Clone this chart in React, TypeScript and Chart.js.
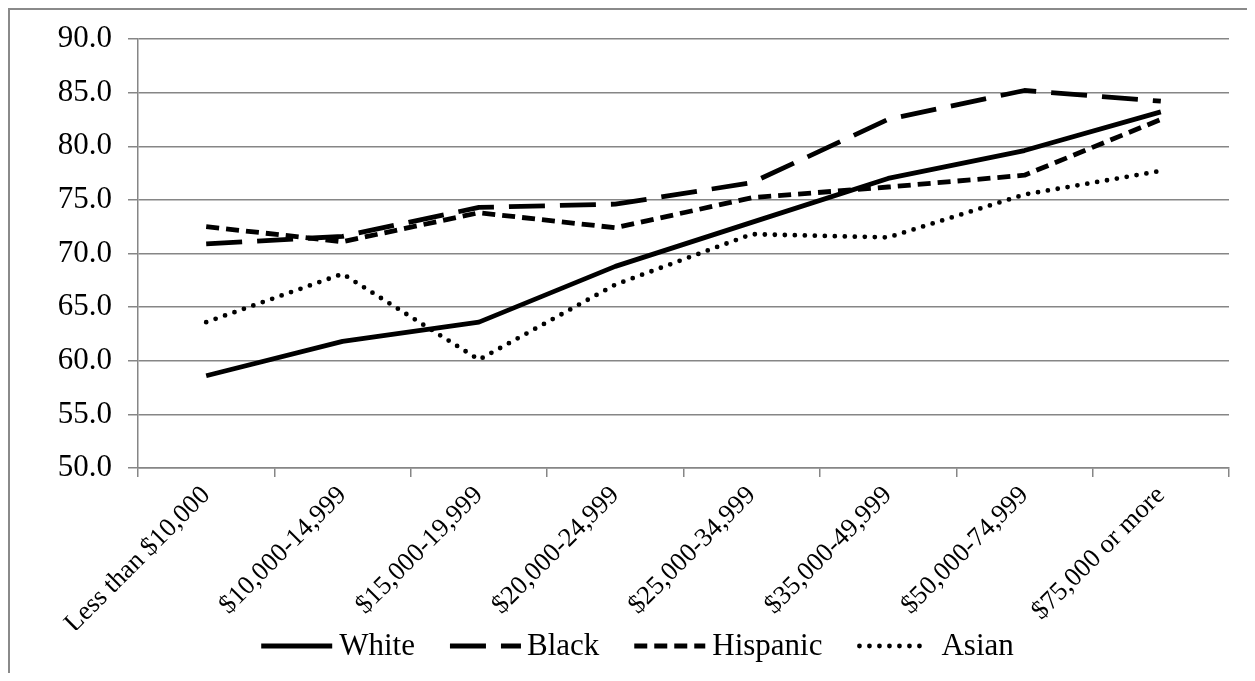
import { useEffect, useRef } from 'react';
import { Chart, registerables } from 'chart.js';

Chart.register(...registerables);

const incomeBands = [
  'Less than $10,000',
  '$10,000-14,999',
  '$15,000-19,999',
  '$20,000-24,999',
  '$25,000-34,999',
  '$35,000-49,999',
  '$50,000-74,999',
  '$75,000 or more',
];

const seriesNames = ['White', 'Black', 'Hispanic', 'Asian'];
const white = [58.6, 61.8, 63.6, 68.8, 72.9, 77.0, 79.6, 83.2];
const black = [70.9, 71.6, 74.3, 74.6, 76.6, 82.5, 85.2, 84.2];
const hispanic = [72.5, 71.1, 73.8, 72.4, 75.2, 76.2, 77.3, 82.5];
const asian = [63.6, 68.1, 60.1, 67.1, 71.8, 71.5, 75.5, 77.7];

const yMin = 50;
const yMax = 90;
const yStep = 5;

const FONT = "'Liberation Serif', 'Times New Roman', serif";
const GRID = '#868686';

// line style per series
const dashes: number[][] = [[], [36, 15], [13, 7], [0, 10]];
const caps: CanvasLineCap[] = ['butt', 'butt', 'butt', 'round'];
const widths = [4.8, 4.8, 4.8, 4.8];

// legend drawn under the axis labels, same look as the old office-style legend
const legendPlugin = {
  id: 'lineLegend',
  afterDraw(chart: Chart) {
    const ctx = chart.ctx;
    const sw = 71;
    const itemGap = 35;
    const textGaps = [7, 6, 7, 13];
    ctx.save();
    ctx.font = `31px ${FONT}`;
    ctx.textBaseline = 'middle';
    const names = chart.data.datasets.map((d) => String(d.label));
    const tw = names.map((n) => ctx.measureText(n).width);
    const total = tw.reduce((a, w, i) => a + sw + textGaps[i] + w, 0) + itemGap * (names.length - 1);
    let x = chart.width / 2 + 5 - total / 2;
    const y = chart.height - 27;
    names.forEach((name, i) => {
      ctx.strokeStyle = '#000';
      ctx.lineWidth = widths[i];
      ctx.lineCap = caps[i];
      ctx.setLineDash(dashes[i]);
      ctx.beginPath();
      const inset = caps[i] === 'round' ? 2 : 0;
      ctx.moveTo(x + inset, y);
      ctx.lineTo(x + sw - inset, y);
      ctx.stroke();
      ctx.setLineDash([]);
      ctx.fillStyle = '#000';
      ctx.fillText(name, x + sw + textGaps[i], y + 1);
      x += sw + textGaps[i] + tw[i] + itemGap;
    });
    ctx.restore();
  },
};

export default function App() {
  const canvasRef = useRef<HTMLCanvasElement>(null);

  useEffect(() => {
    if (!canvasRef.current) return;
    const values = [white, black, hispanic, asian];
    const chart = new Chart(canvasRef.current, {
      type: 'line',
      data: {
        labels: incomeBands,
        datasets: seriesNames.map((name, i) => ({
          label: name,
          data: values[i],
          borderColor: '#000',
          backgroundColor: '#000',
          borderWidth: widths[i],
          borderDash: dashes[i],
          borderCapStyle: caps[i],
          borderJoinStyle: 'round' as const,
          pointRadius: 0,
          tension: 0,
          fill: false,
        })),
      },
      options: {
        animation: false,
        responsive: false,
        layout: { padding: { top: 29, left: 0, right: 26, bottom: 43 } },
        scales: {
          x: {
            offset: true,
            grid: { drawOnChartArea: false, color: GRID, lineWidth: 1.5, tickLength: 9, offset: true },
            border: { color: GRID, width: 1.5 },
            ticks: {
              color: '#000',
              font: { family: FONT, size: 26.5 },
              minRotation: 45,
              maxRotation: 45,
              autoSkip: false,
              padding: 3,
            },
            afterFit: (s: any) => { s.height = 162; },
          },
          y: {
            min: yMin,
            max: yMax,
            ticks: {
              stepSize: yStep,
              color: '#000',
              font: { family: FONT, size: 31 },
              padding: 16,
              callback: (v: any) => Number(v).toFixed(1),
            },
            grid: { color: GRID, lineWidth: 1.5, tickLength: 10 },
            border: { color: GRID, width: 1.5 },
            afterFit: (s: any) => {
              s.width = 128;
              s.paddingTop = 10;
              s.paddingBottom = 10;
            },
          },
        },
        plugins: {
          tooltip: { enabled: false },
          legend: { display: false },
        },
      },
      plugins: [legendPlugin],
    });
    return () => { chart.destroy(); };
  }, []);

  return (
    <div
      style={{
        width: 1247,
        height: 665,
        boxSizing: 'border-box',
        borderLeft: '2px solid #8a8a8a',
        borderTop: '2px solid #8a8a8a',
        overflow: 'hidden',
        background: '#fff',
      }}
    >
      <canvas ref={canvasRef} width={1245} height={663} style={{ display: 'block' }} />
    </div>
  );
}
